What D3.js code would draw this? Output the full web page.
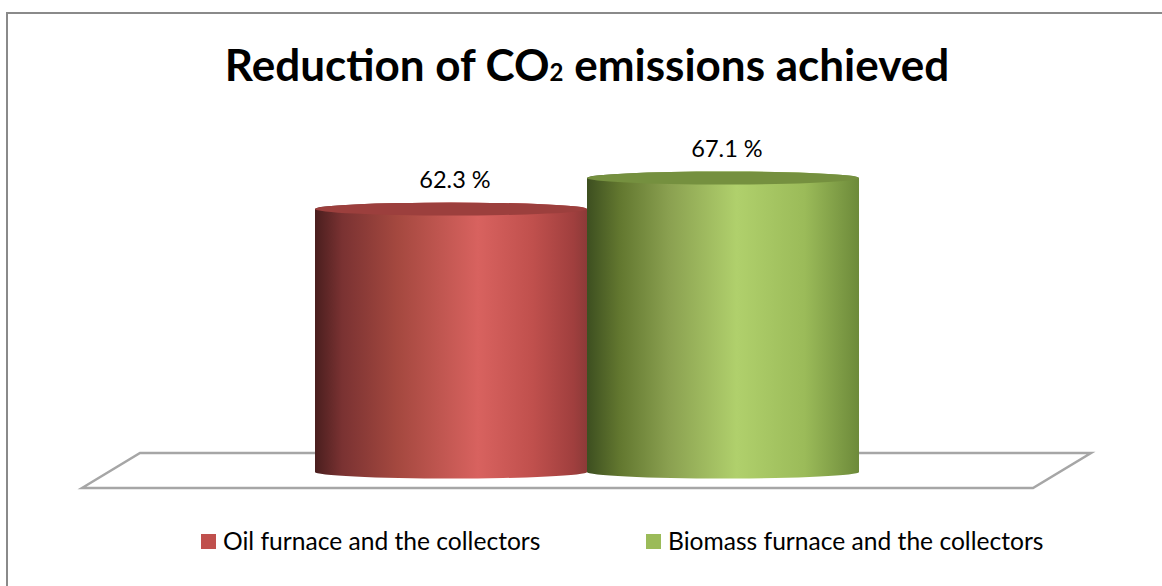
<!DOCTYPE html>
<html>
<head>
<meta charset="utf-8">
<script src="https://cdn.jsdelivr.net/npm/d3@7"></script>
<style>
html, body { margin: 0; padding: 0; background: #fff; }
svg { display: block; font-family: Lato, "Open Sans", sans-serif; }
</style>
</head>
<body>
<script>
// chart values
var categories = ["Oil furnace and the collectors", "Biomass furnace and the collectors"];
var values = [62.3, 67.1];
var labels = ["62.3 %", "67.1 %"];
var sideStops = [
	[[0, "#4a1e1e"], [0.1, "#7a3232"], [0.3, "#a4483f"], [0.6, "#d8625f"], [0.8, "#c0504d"], [0.95, "#a03f3e"], [1, "#8c3a38"]],
	[[0, "#3d4f20"], [0.12, "#62772f"], [0.3, "#8aa050"], [0.55, "#b0d06c"], [0.8, "#9bbb59"], [1, "#6d8a3a"]]
];
var topColors = ["#9c3f3d", "#75903f"];
var swatchColors = ["#c0504d", "#9bbb59"];

var width = 1162, height = 586;

var svg = d3.select("body")
			.append("svg")
			.attr("width", width)
			.attr("height", height);

var defs = svg.append("defs");

// outer frame, only the top and left edges are in the picture
svg.append("path")
	.attr("d", "M7," + height + "L7,13L" + width + ",13")
	.attr("fill", "none")
	.attr("stroke", "#8a8a8a")
	.attr("stroke-width", 2);

// title
var title = svg.append("text")
	.attr("x", 587).attr("y", 81)
	.attr("text-anchor", "middle")
	.style("font-size", "44px")
	.style("font-weight", "bold")
	.style("fill", "#000");
title.append("tspan").text("Reduction of CO");
title.append("tspan").style("font-size", "24px").text("2");
title.append("tspan").text(" emissions achieved");

// scales: the value axis is cut off well above zero, as in the picture
var xScale = d3.scaleBand()
	.domain(categories)
	.range([315, 859])
	.padding(0);

var yScale = d3.scaleLinear()
	.domain([21.6, 67.1])
	.range([472, 178]);

// floor
var floor = d3.path();
floor.moveTo(82, 488);
floor.lineTo(140, 453);
floor.lineTo(1091, 453);
floor.lineTo(1033, 488);
floor.closePath();
svg.append("path")
	.attr("d", floor.toString())
	.attr("fill", "#fff")
	.attr("stroke", "#a6a6a6")
	.attr("stroke-width", 2.5);

// cylinders
var ry = 6.5;
categories.forEach(function(c, i){
	var grad = defs.append("linearGradient")
		.attr("id", "side" + i);
	grad.selectAll("stop")
		.data(sideStops[i])
		.enter()
		.append("stop")
		.attr("offset", function(d){ return d[0]; })
		.attr("stop-color", function(d){ return d[1]; });

	var x0 = xScale(c), rx = xScale.bandwidth() / 2;
	var yTop = yScale(values[i]), yBase = yScale.range()[0];

	svg.append("path")
		.attr("d", "M" + x0 + "," + yTop + "L" + x0 + "," + yBase
			+ "A" + rx + "," + ry + " 0 0 0 " + (x0 + 2 * rx) + "," + yBase
			+ "L" + (x0 + 2 * rx) + "," + yTop
			+ "A" + rx + "," + ry + " 0 0 0 " + x0 + "," + yTop + "Z")
		.attr("fill", "url(#side" + i + ")");

	svg.append("ellipse")
		.attr("cx", x0 + rx).attr("cy", yTop)
		.attr("rx", rx).attr("ry", ry)
		.attr("fill", topColors[i]);

	svg.append("text")
		.attr("x", x0 + rx + 4)
		.attr("y", yTop - 21)
		.attr("text-anchor", "middle")
		.style("font-size", "23.5px")
		.style("fill", "#000")
		.text(labels[i]);
});

// legend
var legendX = [201, 646];
categories.forEach(function(c, i){
	svg.append("rect")
		.attr("x", legendX[i]).attr("y", 534)
		.attr("width", 15).attr("height", 15)
		.attr("fill", swatchColors[i]);
	svg.append("text")
		.attr("x", legendX[i] + 22)
		.attr("y", 550)
		.style("font-size", "24.6px")
		.style("fill", "#000")
		.text(c);
});
</script>
</body>
</html>
